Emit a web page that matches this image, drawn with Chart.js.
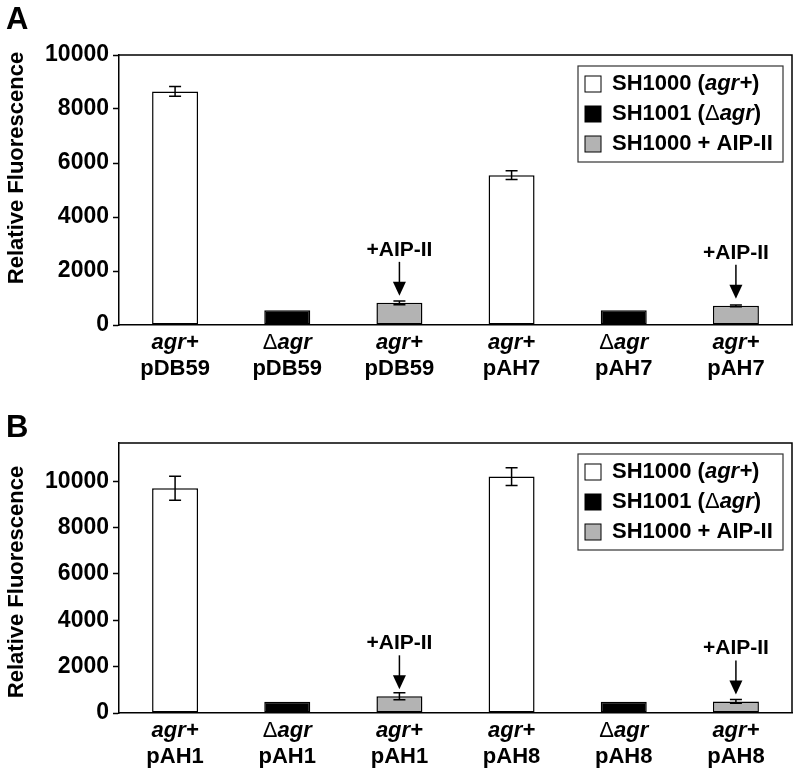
<!DOCTYPE html>
<html>
<head>
<meta charset="utf-8">
<script src="https://cdn.jsdelivr.net/npm/chart.js@4.4.1/dist/chart.umd.min.js"></script>
<style>
    body { margin: 0; background: #fff; }
    canvas { display: block; }
</style>
</head>
<body>
<canvas id="chartA" width="800" height="380"></canvas>
<canvas id="chartB" width="800" height="393"></canvas>
<script>
"use strict";

// text between underscores is drawn italic
var labelsTopA = ["_agr+_", "\u0394_agr_", "_agr+_", "_agr+_", "\u0394_agr_", "_agr+_"];
var labelsBottomA = ["pDB59", "pDB59", "pDB59", "pAH7", "pAH7", "pAH7"];
var labelsTopB = ["_agr+_", "\u0394_agr_", "_agr+_", "_agr+_", "\u0394_agr_", "_agr+_"];
var labelsBottomB = ["pAH1", "pAH1", "pAH1", "pAH8", "pAH8", "pAH8"];

var seriesNames = ["SH1000 (_agr+_)", "SH1001 (\u0394_agr_)", "SH1000 + AIP-II"];
var annotationText = "+AIP-II";
var yTitle = "Relative Fluorescence";

var sh1000A = [8650, null, null, 5550, null, null];
var sh1000ErrA = [180, null, null, 160, null, null];
var sh1001A = [null, 550, null, null, 550, null];
var aipA = [null, null, 820, null, null, 710];
var aipErrA = [null, null, 70, null, null, 30];

var sh1000B = [9700, null, null, 10200, null, null];
var sh1000ErrB = [520, null, null, 380, null, null];
var sh1001B = [null, 490, null, null, 490, null];
var aipB = [null, null, 720, null, null, 500];
var aipErrB = [null, null, 150, null, null, 80];

var yTicksA = [0, 2000, 4000, 6000, 8000, 10000];
var yTicksB = [0, 2000, 4000, 6000, 8000, 10000];

var FONT = "'Liberation Sans', Arial, sans-serif";

// split into runs: _italic_, a thin delta, plain bold
function richParts(s) {
    var out = [];
    var re = /_([^_]*)_|(\u0394)|([^_\u0394]+)/g;
    var m;
    while ((m = re.exec(s)) !== null) {
        if (m[1] !== undefined) out.push({ text: m[1], italic: true, bold: true });
        else if (m[2] !== undefined) out.push({ text: m[2], italic: false, bold: false });
        else out.push({ text: m[3], italic: false, bold: true });
    }
    return out;
}

function partFont(p, size) {
    return (p.italic ? "italic " : "") + (p.bold ? "bold " : "") + size + "px " + FONT;
}

function drawRich(ctx, s, x, y, size, align) {
    var parts = richParts(s);
    var total = 0;
    parts.forEach(function (p) {
        ctx.font = partFont(p, size);
        p.w = ctx.measureText(p.text).width;
        total += p.w;
    });
    var cx = align == "center" ? x - total / 2 : x;
    ctx.textAlign = "left";
    ctx.textBaseline = "middle";
    ctx.fillStyle = "#000";
    parts.forEach(function (p) {
        ctx.font = partFont(p, size);
        ctx.fillText(p.text, cx, y);
        cx += p.w;
    });
}

var panelPlugin = {
    id: "panel",
    afterDatasetsDraw: function (chart, args, opts) {
        var ctx = chart.ctx;
        var y = chart.scales.y;
        ctx.save();
        ctx.strokeStyle = "#000";
        ctx.lineWidth = 1.5;
        // error bars
        chart.data.datasets.forEach(function (ds, di) {
            if (!ds.errors) return;
            var meta = chart.getDatasetMeta(di);
            ds.data.forEach(function (v, i) {
                if (v == null || ds.errors[i] == null) return;
                var x = meta.data[i].x;
                var y1 = y.getPixelForValue(v + ds.errors[i]);
                var y2 = y.getPixelForValue(v - ds.errors[i]);
                ctx.beginPath();
                ctx.moveTo(x, y1); ctx.lineTo(x, y2);
                ctx.moveTo(x - 6, y1); ctx.lineTo(x + 6, y1);
                ctx.moveTo(x - 6, y2); ctx.lineTo(x + 6, y2);
                ctx.stroke();
            });
        });
        // arrows over the AIP-II bars
        var aip = chart.data.datasets[2];
        var aipMeta = chart.getDatasetMeta(2);
        aip.data.forEach(function (v, i) {
            if (v == null) return;
            var x = aipMeta.data[i].x;
            var tip = y.getPixelForValue(v) - 7;
            var start = tip - 34;
            ctx.beginPath();
            ctx.moveTo(x, start); ctx.lineTo(x, tip - 10);
            ctx.stroke();
            ctx.fillStyle = "#000";
            ctx.beginPath();
            ctx.moveTo(x - 6.5, tip - 14);
            ctx.lineTo(x + 6.5, tip - 14);
            ctx.lineTo(x, tip);
            ctx.closePath();
            ctx.fill();
            drawRich(ctx, annotationText, x, start - 12, 21, "center");
        });
        ctx.restore();
    },
    afterDraw: function (chart, args, opts) {
        var ctx = chart.ctx;
        var area = chart.chartArea;
        var xs = chart.scales.x;
        ctx.save();
        // top and right frame
        ctx.strokeStyle = "#000";
        ctx.lineWidth = 1.5;
        ctx.beginPath();
        ctx.moveTo(area.left, area.top);
        ctx.lineTo(area.right, area.top);
        ctx.lineTo(area.right, area.bottom);
        ctx.stroke();
        // two-line category labels
        opts.top.forEach(function (t, i) {
            var x = xs.getPixelForValue(i);
            drawRich(ctx, t, x, area.bottom + 18, 22, "center");
            drawRich(ctx, opts.bottom[i], x, area.bottom + 44, 22, "center");
        });
        // y title
        ctx.save();
        ctx.translate(17, (area.top + area.bottom) / 2 + opts.titleShift);
        ctx.rotate(-Math.PI / 2);
        drawRich(ctx, yTitle, 0, 0, 22, "center");
        ctx.restore();
        // panel letter
        ctx.font = "bold 31px " + FONT;
        ctx.textAlign = "left";
        ctx.textBaseline = "alphabetic";
        ctx.fillStyle = "#000";
        ctx.fillText(opts.letter, 6, opts.letterY);
        // legend
        var lw = 205, lh = 96;
        var lx = area.right - 9 - lw;
        var ly = area.top + 11;
        ctx.fillStyle = "#fff";
        ctx.fillRect(lx, ly, lw, lh);
        ctx.strokeStyle = "#333";
        ctx.lineWidth = 1.2;
        ctx.strokeRect(lx, ly, lw, lh);
        chart.data.datasets.forEach(function (ds, di) {
            var cy = ly + 18 + di * 30;
            ctx.fillStyle = ds.backgroundColor;
            ctx.fillRect(lx + 7, cy - 8, 16, 16);
            ctx.strokeStyle = "#000";
            ctx.lineWidth = 1;
            ctx.strokeRect(lx + 7, cy - 8, 16, 16);
            drawRich(ctx, seriesNames[di], lx + 34, cy, 22, "left");
        });
        ctx.restore();
    }
};

function makeChart(id, cfg) {
    var barOpts = {
        borderColor: "#000",
        borderWidth: 1.5,
        borderSkipped: false,
        categoryPercentage: 1,
        barPercentage: 0.41
    };
    return new Chart(document.getElementById(id), {
        type: "bar",
        data: {
            labels: cfg.labelsTop.map(function (s) { return s.replace(/_/g, ""); }),
            datasets: [
                Object.assign({ label: "SH1000 (agr+)", data: cfg.sh1000, errors: cfg.sh1000Err, backgroundColor: "#ffffff" }, barOpts),
                Object.assign({ label: "SH1001 (\u0394agr)", data: cfg.sh1001, backgroundColor: "#000000" }, barOpts),
                Object.assign({ label: "SH1000 + AIP-II", data: cfg.aip, errors: cfg.aipErr, backgroundColor: "#b3b3b3" }, barOpts)
            ]
        },
        options: {
            responsive: false,
            animation: false,
            grouped: false,
            layout: { padding: { top: cfg.padTop, right: 8, left: 0, bottom: 0 } },
            plugins: {
                legend: { display: false },
                tooltip: { enabled: false },
                panel: {
                    top: cfg.labelsTop,
                    bottom: cfg.labelsBottom,
                    letter: cfg.letter,
                    letterY: cfg.letterY,
                    titleShift: cfg.titleShift
                }
            },
            scales: {
                x: {
                    grid: { display: false },
                    border: { display: true, color: "#000", width: 1.5 },
                    ticks: { display: false },
                    afterFit: function (scale) { scale.height = cfg.xHeight; }
                },
                y: {
                    min: 0,
                    max: cfg.yMax,
                    afterBuildTicks: function (scale) {
                        scale.ticks = cfg.yTicks.map(function (v) { return { value: v }; });
                    },
                    grid: { display: true, drawOnChartArea: false, drawTicks: true, tickLength: 6, tickColor: "#000", tickWidth: 1.5 },
                    border: { display: true, color: "#000", width: 1.5 },
                    ticks: {
                        color: "#000",
                        padding: 4,
                        font: { family: FONT, size: 23, weight: "bold" },
                        callback: function (v) { return String(v); }
                    },
                    afterFit: function (scale) { scale.width = 119; }
                }
            }
        },
        plugins: [panelPlugin]
    });
}

makeChart("chartA", {
    labelsTop: labelsTopA, labelsBottom: labelsBottomA,
    sh1000: sh1000A, sh1000Err: sh1000ErrA, sh1001: sh1001A, aip: aipA, aipErr: aipErrA,
    yTicks: yTicksA, yMax: 10000,
    padTop: 55, xHeight: 55, letter: "A", letterY: 29, titleShift: -22
});

makeChart("chartB", {
    labelsTop: labelsTopB, labelsBottom: labelsBottomB,
    sh1000: sh1000B, sh1000Err: sh1000ErrB, sh1001: sh1001B, aip: aipB, aipErr: aipErrB,
    yTicks: yTicksB, yMax: 11650,
    padTop: 63, xHeight: 60, letter: "B", letterY: 57, titleShift: 4
});
</script>
</body>
</html>
